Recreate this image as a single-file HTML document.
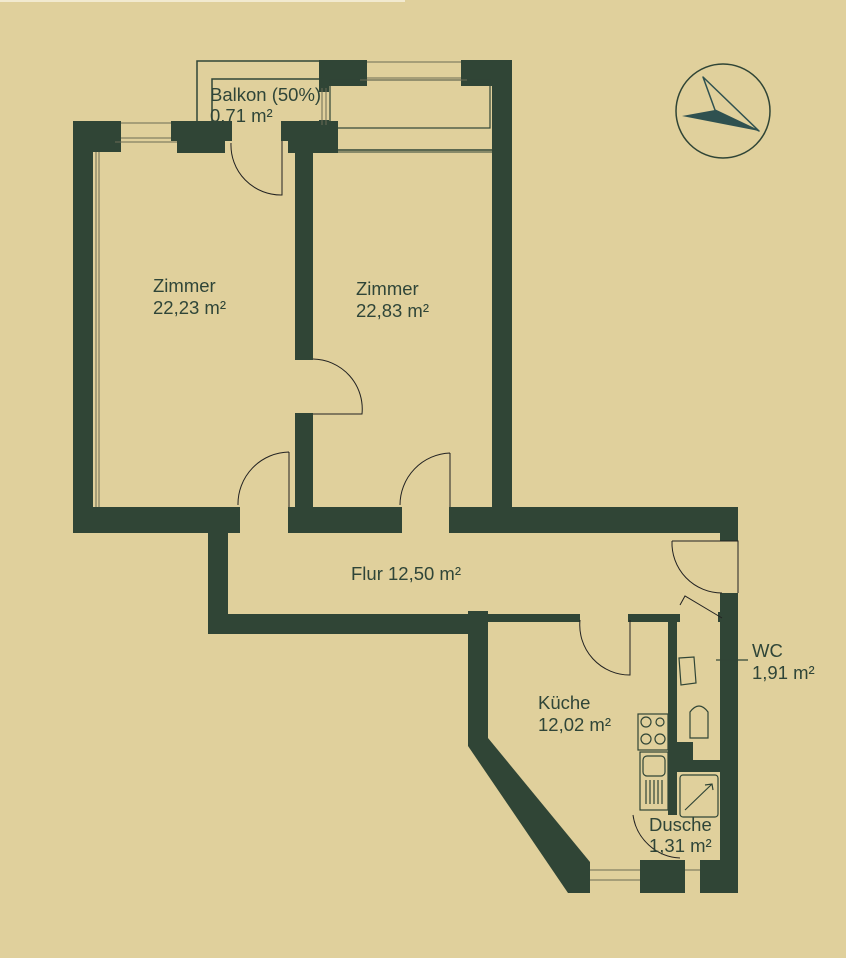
<!DOCTYPE html>
<html><head><meta charset="utf-8"><style>
html,body{margin:0;padding:0;background:#e0d09c;}
svg{display:block;}
text{font-family:"Liberation Sans",sans-serif;fill:#2f4538;font-size:18.5px;}
</style></head><body>
<svg width="846" height="958" viewBox="0 0 846 958" xmlns="http://www.w3.org/2000/svg">
<rect width="846" height="958" fill="#e0d09c"/>
<rect x="0" y="0" width="405" height="2" fill="#f2ead0"/>
<g fill="#304536">
<rect x="73" y="121" width="48" height="31"/>
<rect x="73" y="121" width="20" height="412"/>
<rect x="73" y="507" width="167" height="26"/>
<rect x="171" y="121" width="61" height="20"/>
<rect x="177" y="121" width="48" height="32"/>
<rect x="281" y="121" width="57" height="20"/>
<rect x="288" y="121" width="50" height="32"/>
<rect x="295" y="121" width="18" height="239"/>
<rect x="295" y="413" width="18" height="100"/>
<rect x="288" y="507" width="114" height="26"/>
<rect x="449" y="507" width="289" height="26"/>
<rect x="720" y="507" width="18" height="34"/>
<rect x="319" y="60" width="48" height="26"/>
<rect x="461" y="60" width="51" height="26"/>
<rect x="492" y="60" width="20" height="453"/>
<rect x="319" y="60" width="10" height="32"/>
<rect x="319" y="120" width="10" height="10"/>
<rect x="208" y="533" width="20" height="101"/>
<rect x="208" y="614" width="280" height="20"/>
<rect x="468" y="611" width="20" height="133"/>
<polygon points="468,738 488,738 590,862 590,893 568,893 468,746"/>
<rect x="488" y="614" width="92" height="8"/>
<rect x="628" y="614" width="52" height="8"/>
<rect x="668" y="620" width="9" height="195"/>
<rect x="668" y="742" width="25" height="30"/>
<rect x="677" y="760" width="45" height="12"/>
<rect x="720" y="593" width="18" height="300"/>
<rect x="718" y="612" width="4" height="10"/>
<rect x="570" y="862" width="20" height="31"/>
<rect x="640" y="860" width="45" height="33"/>
<rect x="700" y="860" width="38" height="33"/>
</g>
<g fill="none" stroke="#304536" stroke-width="1.5">
<polyline points="197,121 197,61 320,61"/>
<polyline points="212,121 212,79 320,79"/>
<rect x="330" y="80" width="160" height="48" stroke-width="1.2"/>
<line x1="330" y1="150" x2="492" y2="150"/>
<line x1="338" y1="152" x2="492" y2="152" stroke-width="1"/>
</g>
<g fill="none" stroke="#6b6b55" stroke-width="1">
<line x1="121" y1="123" x2="171" y2="123"/>
<line x1="121" y1="138" x2="171" y2="138"/>
<line x1="115" y1="142" x2="177" y2="142"/>
<line x1="96" y1="152" x2="96" y2="507"/>
<line x1="99" y1="152" x2="99" y2="507"/>
<line x1="367" y1="62" x2="461" y2="62"/>
<line x1="367" y1="78" x2="461" y2="78"/>
<line x1="360" y1="80" x2="467" y2="80"/>
<line x1="322" y1="88" x2="322" y2="125"/>
<line x1="326" y1="88" x2="326" y2="125"/>
<line x1="590" y1="870" x2="640" y2="870"/>
<line x1="590" y1="880" x2="640" y2="880"/>
<line x1="685" y1="870" x2="700" y2="870"/>
</g>
<g fill="none" stroke="#222" stroke-width="1">
<path d="M231,143 A50,50 0 0 0 282,195 L282,141"/>
<path d="M313,359 A50,50 0 0 1 362,414 L313,414"/>
<path d="M289,452 A52,52 0 0 0 238,505 M289,452 L289,507"/>
<path d="M450,453 A52,52 0 0 0 400,505 M450,453 L450,507"/>
<path d="M672,541 A50,50 0 0 0 722,593 M672,541 L738,541 L738,593"/>
<path d="M680,605 L685,596 L722,618"/>
<path d="M580,620 A50,50 0 0 0 630,675 L630,620"/>
<path d="M633,815 A50,50 0 0 0 680,858"/>
</g>
<g fill="none" stroke="#304536" stroke-width="1.2">
<rect x="638" y="714" width="30" height="36"/>
<circle cx="646" cy="722" r="5"/><circle cx="660" cy="722" r="4"/>
<circle cx="646" cy="739" r="5"/><circle cx="660" cy="739" r="5"/>
<rect x="640" y="752" width="28" height="58"/>
<rect x="643" y="756" width="22" height="20" rx="4"/>
<path d="M646,780 v24 M650,780 v24 M654,780 v24 M658,780 v24 M662,780 v24"/>
<path d="M679,658 L694,657 L696,683 L681,685 Z"/>
<path d="M690,738 L690,712 Q699,700 708,712 L708,738 Z"/>
<rect x="680" y="775" width="38" height="42" rx="3"/>
<path d="M685,810 L712,784 M705,785 L712,784 L713,790"/>
<line x1="720" y1="660" x2="748" y2="660"/>
<line x1="716" y1="660" x2="722" y2="660"/>
</g>
<circle cx="723" cy="111" r="47" fill="none" stroke="#304536" stroke-width="1.5"/>
<polygon points="682,116 715,110 759,131" fill="#2f5150"/>
<polygon points="703,77 715,110 759,131" fill="none" stroke="#2f5150" stroke-width="1.5" stroke-linejoin="round"/>
<text x="210" y="101">Balkon (50%)</text>
<text x="210" y="122">0,71 m²</text>
<text x="153" y="292">Zimmer</text>
<text x="153" y="314">22,23 m²</text>
<text x="356" y="295">Zimmer</text>
<text x="356" y="317">22,83 m²</text>
<text x="351" y="580">Flur 12,50 m²</text>
<text x="538" y="709">Küche</text>
<text x="538" y="731">12,02 m²</text>
<text x="752" y="657">WC</text>
<text x="752" y="679">1,91 m²</text>
<text x="649" y="831">Dusche</text>
<text x="649" y="852">1,31 m²</text>
</svg>
</body></html>
